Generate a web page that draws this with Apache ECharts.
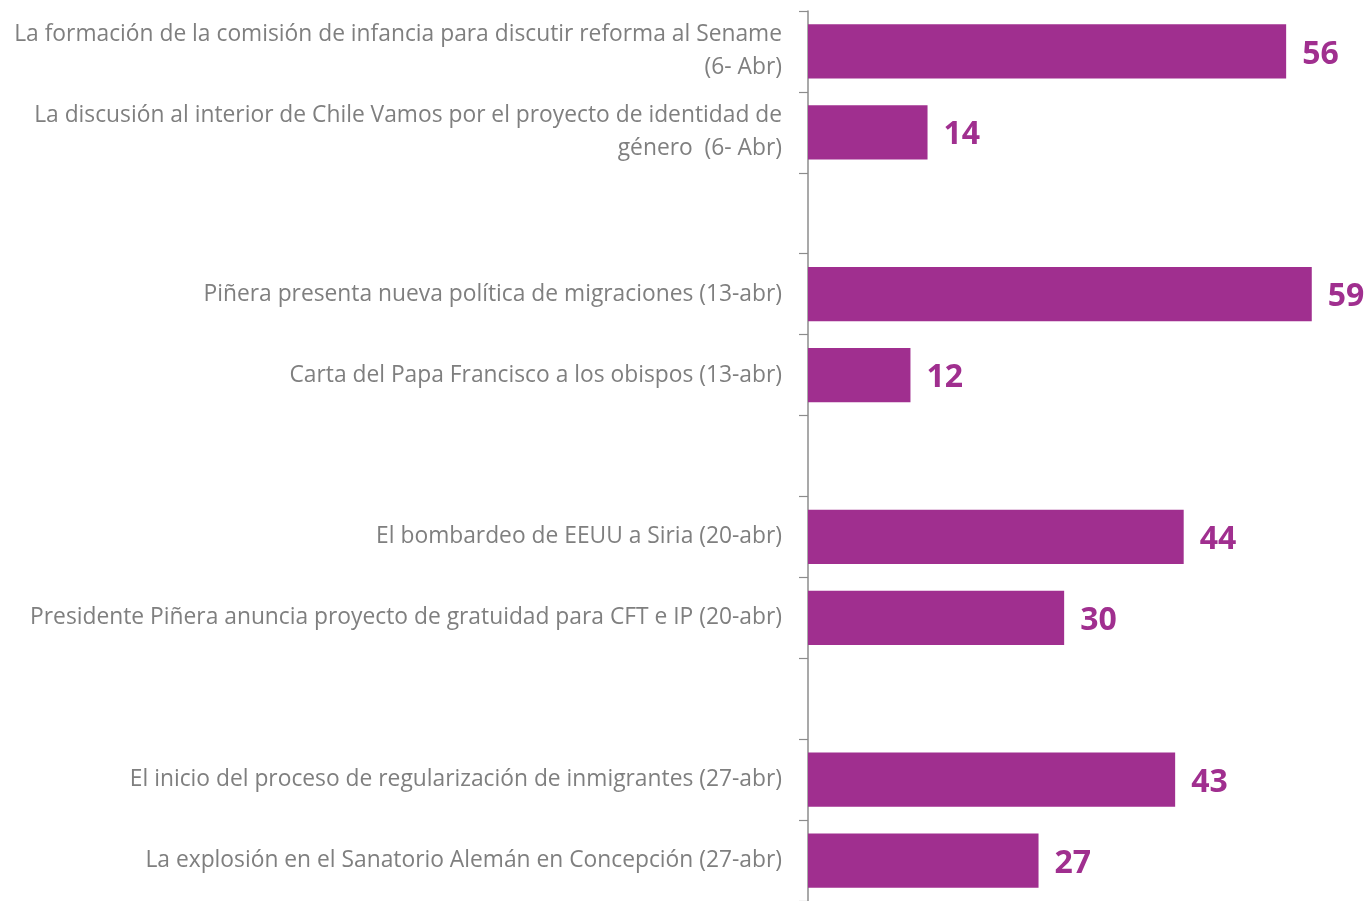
<!DOCTYPE html>
<html>
<head>
<meta charset="utf-8">
<script src="https://cdn.jsdelivr.net/npm/echarts@6/dist/echarts.min.js"></script>
<style>
  html, body { margin: 0; padding: 0; background: #fff; }
  #chart { width: 1369px; height: 901px; }
</style>
</head>
<body>
<div id="chart"></div>
<script>
// categories, top to bottom ('' = empty gap row)
var categories = [
    'La formación de la comisión de infancia para discutir reforma al Sename\n(6- Abr)',
    'La discusión al interior de Chile Vamos por el proyecto de identidad de\ngénero  (6- Abr)',
    '',
    'Piñera presenta nueva política de migraciones (13-abr)',
    'Carta del Papa Francisco a los obispos (13-abr)',
    '',
    'El bombardeo de EEUU a Siria (20-abr)',
    'Presidente Piñera anuncia proyecto de gratuidad para CFT e IP (20-abr)',
    '',
    'El inicio del proceso de regularización de inmigrantes (27-abr)',
    'La explosión en el Sanatorio Alemán en Concepción (27-abr)'
];
var values = [56, 14, '-', 59, 12, '-', 44, 30, '-', 43, 27];

var myChart = echarts.init(document.getElementById('chart'));
var option = {
    animation: false,
    grid: {
        left: 808,
        top: 11,
        height: 891,
        width: 555
    },
    xAxis: {
        type: 'value',
        min: 0,
        max: 65,
        show: false
    },
    yAxis: {
        type: 'category',
        inverse: true,
        data: categories,
        axisLine: { show: true, lineStyle: { color: '#8c8c8c', width: 1.5 } },
        axisTick: { show: true, length: 9, lineStyle: { color: '#8c8c8c', width: 1.2 } },
        axisLabel: {
            margin: 26,
            color: '#7f7f7f',
            fontFamily: 'Open Sans',
            fontSize: 22.8,
            lineHeight: 33,
            padding: [4, 0, 0, 0],
            align: 'right'
        }
    },
    series: [{
        type: 'bar',
        data: values,
        barCategoryGap: '33%',
        itemStyle: { color: '#A02F8F' },
        label: {
            show: true,
            position: 'right',
            distance: 16,
            offset: [0, 3],
            color: '#A02F8F',
            fontFamily: 'Open Sans',
            fontWeight: 'bold',
            fontSize: 32
        }
    }]
};
myChart.setOption(option);
</script>
</body>
</html>
